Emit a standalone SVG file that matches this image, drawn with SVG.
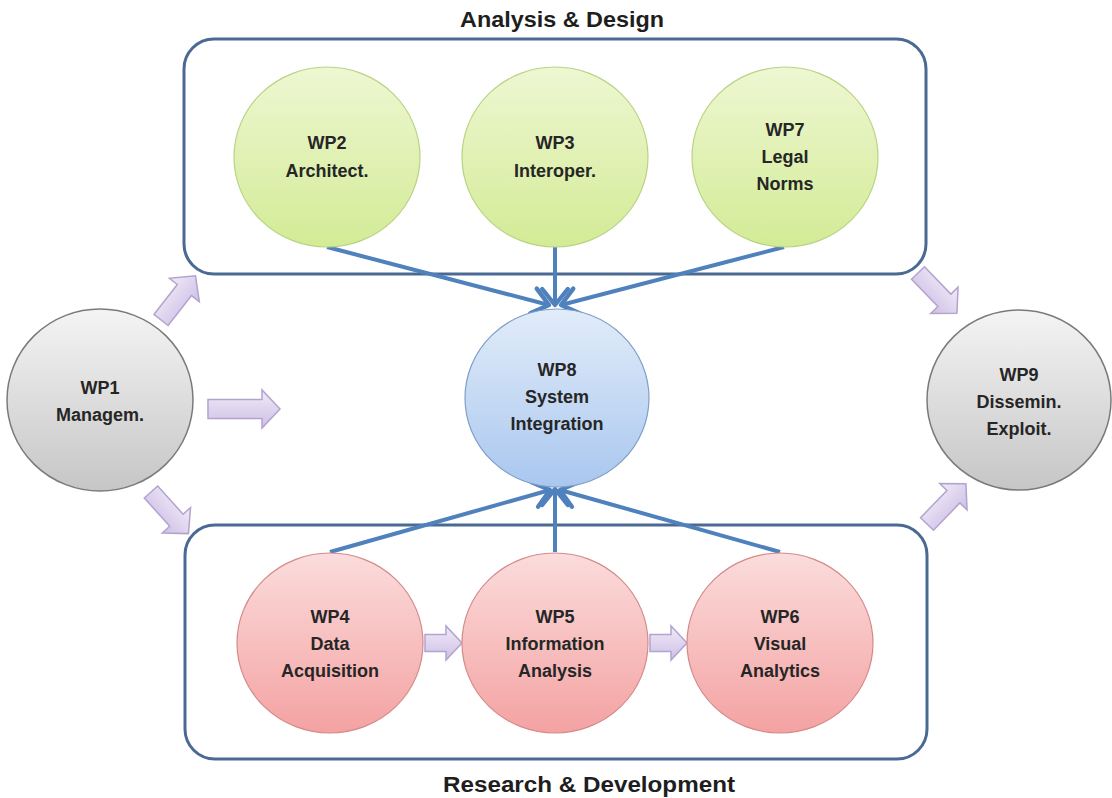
<svg xmlns="http://www.w3.org/2000/svg" width="1112" height="798" viewBox="0 0 1112 798">
<defs>
<linearGradient id="gGreen" x1="0" y1="0" x2="0" y2="1"><stop offset="0" stop-color="#eef7d2"/><stop offset="1" stop-color="#d3eb96"/></linearGradient>
<linearGradient id="gBlue" x1="0" y1="0" x2="0" y2="1"><stop offset="0" stop-color="#e2ecf9"/><stop offset="1" stop-color="#a9c7ef"/></linearGradient>
<linearGradient id="gRed" x1="0" y1="0" x2="0" y2="1"><stop offset="0" stop-color="#fbdcdc"/><stop offset="1" stop-color="#f4a2a2"/></linearGradient>
<linearGradient id="gGray" x1="0" y1="0" x2="0" y2="1"><stop offset="0" stop-color="#f4f4f4"/><stop offset="1" stop-color="#c6c6c6"/></linearGradient>
<linearGradient id="gArrow" x1="0" y1="0" x2="0" y2="1"><stop offset="0" stop-color="#f1ebf8"/><stop offset="1" stop-color="#cdbfe5"/></linearGradient>
<marker id="head" markerWidth="6" markerHeight="8" refX="5" refY="4" orient="auto" markerUnits="strokeWidth" viewBox="0 0 6 8">
<path d="M1,0.8 L5,4 L1,7.2" fill="none" stroke="#4f81bd" stroke-width="1.1" stroke-linecap="round" stroke-linejoin="round"/>
</marker>
<path id="arrowL" d="M0,-9.5 L54,-9.5 L54,-19 L72,0 L54,19 L54,9.5 L0,9.5 Z"/>
<path id="arrowM" d="M0,-9 L38,-9 L38,-19 L56,0 L38,19 L38,9 L0,9 Z"/>
<path id="arrowS" d="M0,-8.5 L21,-8.5 L21,-17 L37,0 L21,17 L21,8.5 L0,8.5 Z"/>
</defs>
<style>
.box{fill:none;stroke:#4a6a94;stroke-width:3}
.green{fill:url(#gGreen);stroke:#b9d384;stroke-width:1.2}
.blue{fill:url(#gBlue);stroke:#7f9fc8;stroke-width:1.2}
.red{fill:url(#gRed);stroke:#d58a8a;stroke-width:1.2}
.gray{fill:url(#gGray);stroke:#7a7a7a;stroke-width:1.5}
.lbl{font-family:"Liberation Sans",Arial,sans-serif;font-weight:bold;font-size:18px;fill:#262626;text-anchor:middle}
.title{font-family:"Liberation Sans",Arial,sans-serif;font-weight:bold;font-size:22px;fill:#1e1e1e;text-anchor:middle}
.conn{stroke:#4f81bd;stroke-width:4;fill:none;marker-end:url(#head)}
.blk{fill:url(#gArrow);stroke:#b3a3cf;stroke-width:1.5}
</style>
<rect width="1112" height="798" fill="#ffffff"/>

<g id="group-analysis">
<rect class="box" x="184" y="39" width="742" height="235" rx="30"/>
<text class="title" x="562" y="27" textLength="204" lengthAdjust="spacingAndGlyphs">Analysis &amp; Design</text>
</g>
<g id="group-research">
<rect class="box" x="185" y="525" width="742" height="234" rx="30"/>
<text class="title" x="589" y="792" textLength="292" lengthAdjust="spacingAndGlyphs">Research &amp; Development</text>
</g>

<g id="block-arrows">
<use href="#arrowM" class="blk" transform="translate(161,320) rotate(-52)"/>
<use href="#arrowL" class="blk" transform="translate(208,409)"/>
<use href="#arrowM" class="blk" transform="translate(151,492) rotate(48)"/>
<use href="#arrowM" class="blk" transform="translate(918,273) rotate(46)"/>
<use href="#arrowM" class="blk" transform="translate(927,524) rotate(-46)"/>
<use href="#arrowS" class="blk" transform="translate(425,643)"/>
<use href="#arrowS" class="blk" transform="translate(650,643)"/>
</g>

<g id="connectors">
<line class="conn" x1="327" y1="247" x2="549" y2="305"/>
<line class="conn" x1="555" y1="247" x2="555" y2="305"/>
<line class="conn" x1="784" y1="247" x2="561" y2="305"/>
<line class="conn" x1="330" y1="552" x2="550" y2="490"/>
<line class="conn" x1="555" y1="552" x2="555" y2="489"/>
<line class="conn" x1="780" y1="552" x2="560" y2="490"/>
</g>

<g id="wp1">
<ellipse class="gray" cx="100" cy="400" rx="93" ry="91"/>
<text class="lbl" x="100" y="394">WP1</text>
<text class="lbl" x="100" y="421">Managem.</text>
</g>
<g id="wp2">
<ellipse class="green" cx="327" cy="157" rx="93" ry="90"/>
<text class="lbl" x="327" y="149">WP2</text>
<text class="lbl" x="327" y="177">Architect.</text>
</g>
<g id="wp3">
<ellipse class="green" cx="555" cy="157" rx="93" ry="90"/>
<text class="lbl" x="555" y="149">WP3</text>
<text class="lbl" x="555" y="177">Interoper.</text>
</g>
<g id="wp7">
<ellipse class="green" cx="785" cy="157" rx="93" ry="90"/>
<text class="lbl" x="785" y="136">WP7</text>
<text class="lbl" x="785" y="163">Legal</text>
<text class="lbl" x="785" y="190">Norms</text>
</g>
<g id="wp8">
<ellipse class="blue" cx="557" cy="398" rx="92" ry="89"/>
<text class="lbl" x="557" y="376">WP8</text>
<text class="lbl" x="557" y="403">System</text>
<text class="lbl" x="557" y="430">Integration</text>
</g>
<g id="wp9">
<ellipse class="gray" cx="1019" cy="400" rx="92" ry="90"/>
<text class="lbl" x="1019" y="381">WP9</text>
<text class="lbl" x="1019" y="408">Dissemin.</text>
<text class="lbl" x="1019" y="435">Exploit.</text>
</g>
<g id="wp4">
<ellipse class="red" cx="330" cy="643" rx="93" ry="90"/>
<text class="lbl" x="330" y="623">WP4</text>
<text class="lbl" x="330" y="650">Data</text>
<text class="lbl" x="330" y="677">Acquisition</text>
</g>
<g id="wp5">
<ellipse class="red" cx="555" cy="643" rx="93" ry="90"/>
<text class="lbl" x="555" y="623">WP5</text>
<text class="lbl" x="555" y="650">Information</text>
<text class="lbl" x="555" y="677">Analysis</text>
</g>
<g id="wp6">
<ellipse class="red" cx="780" cy="643" rx="93" ry="90"/>
<text class="lbl" x="780" y="623">WP6</text>
<text class="lbl" x="780" y="650">Visual</text>
<text class="lbl" x="780" y="677">Analytics</text>
</g>
</svg>
